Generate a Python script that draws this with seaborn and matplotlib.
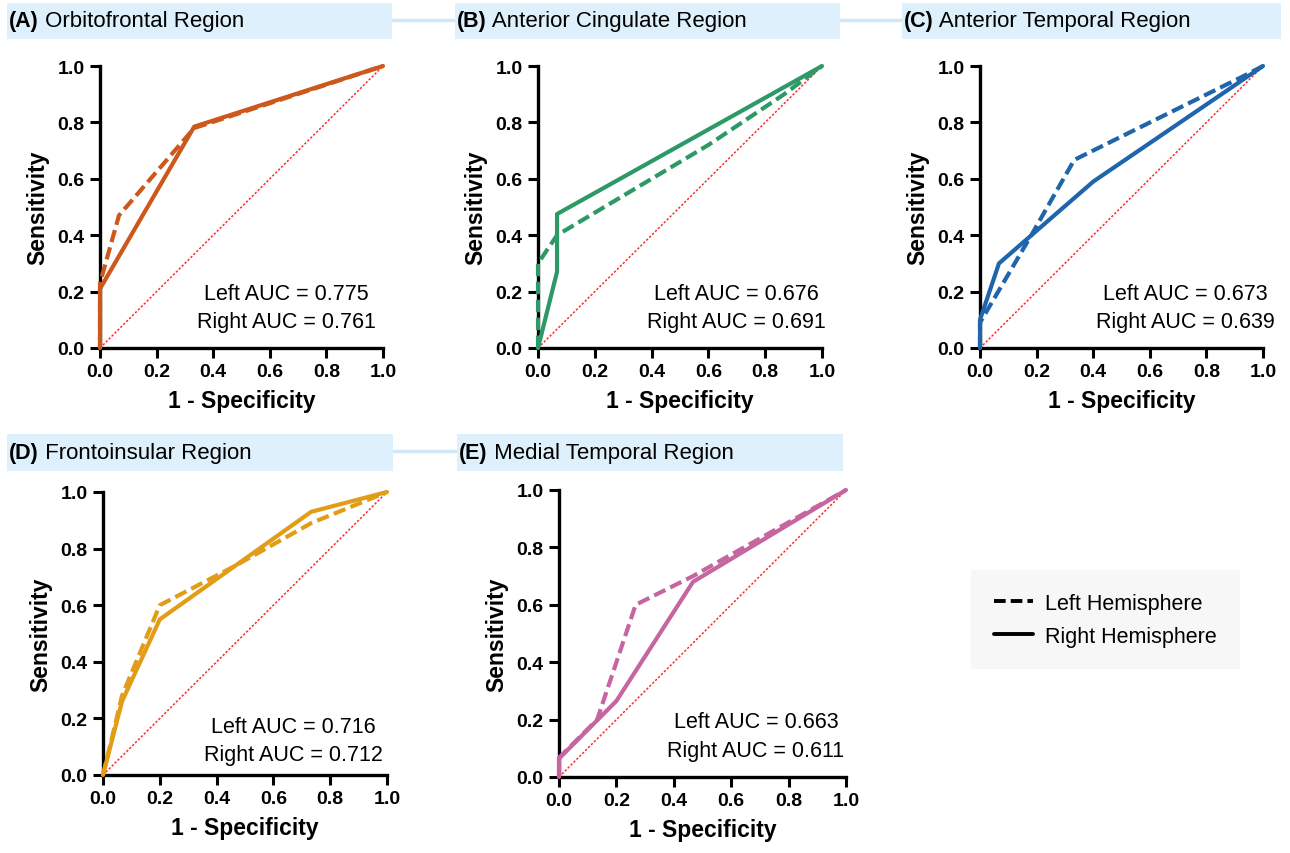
import numpy as np
import pandas as pd
import seaborn as sns
import matplotlib.pyplot as plt
from matplotlib.patches import Rectangle
from matplotlib.lines import Line2D

# 数据 (从图中读取的 ROC 曲线点)
regions = ['Orbitofrontal Region', 'Anterior Cingulate Region', 'Anterior Temporal Region',
           'Frontoinsular Region', 'Medial Temporal Region']
letters = ['(A)', '(B)', '(C)', '(D)', '(E)']
colors = ['#CC581C', '#2C9966', '#1F65AC', '#E29D18', '#C566A1']

left_fpr = [
    [0, 0, 0.067, 0.333, 1],
    [0, 0, 0.067, 0.6, 0.867, 1],
    [0, 0, 0.187, 0.333, 0.933, 1],
    [0, 0.067, 0.2, 0.467, 0.733, 1],
    [0, 0, 0.133, 0.267, 0.467, 1],
]
left_tpr = [
    [0, 0.23, 0.47, 0.78, 1],
    [0, 0.30, 0.40, 0.72, 0.90, 1],
    [0, 0.09, 0.41, 0.667, 0.965, 1],
    [0, 0.28, 0.60, 0.74, 0.89, 1],
    [0, 0.067, 0.20, 0.60, 0.70, 1],
]
right_fpr = [
    [0, 0, 0.333, 1],
    [0, 0.067, 0.067, 1],
    [0, 0, 0.067, 0.4, 1],
    [0, 0.067, 0.2, 0.733, 1],
    [0, 0, 0.2, 0.467, 1],
]
right_tpr = [
    [0, 0.21, 0.785, 1],
    [0, 0.27, 0.475, 1],
    [0, 0.10, 0.30, 0.59, 1],
    [0, 0.26, 0.55, 0.93, 1],
    [0, 0.064, 0.265, 0.68, 1],
]
left_auc = [0.775, 0.676, 0.673, 0.716, 0.663]
right_auc = [0.761, 0.691, 0.639, 0.712, 0.611]
chance = [0, 1]
ticks = [0.0, 0.2, 0.4, 0.6, 0.8, 1.0]

sns.set_theme(style='ticks')
plt.rcParams['font.family'] = ['Liberation Sans', 'DejaVu Sans']
plt.rcParams['text.color'] = 'black'
plt.rcParams['axes.labelcolor'] = 'black'
plt.rcParams['xtick.color'] = 'black'
plt.rcParams['ytick.color'] = 'black'

W, H = 1290, 854
fig = plt.figure(figsize=(W / 100, H / 100), dpi=100)


def px_box(x0, y0, x1, y1):
    # 像素坐标 -> figure 坐标
    return [x0 / W, 1 - y1 / H, (x1 - x0) / W, (y1 - y0) / H]


axes_px = [(100, 67, 383, 349), (538, 67, 822, 349), (980, 67, 1263, 349),
           (103, 493, 387, 776), (559, 491, 846, 778)]
text_x = [0.66, 0.70, 0.724, 0.67, 0.686]
text_y = [0.195, 0.195, 0.195, 0.173, 0.195]

axes = []
for i in range(5):
    ax = fig.add_axes(px_box(*axes_px[i]))
    axes.append(ax)
    df = pd.concat([
        pd.DataFrame({'fpr': left_fpr[i], 'tpr': left_tpr[i], 'side': 'Left'}),
        pd.DataFrame({'fpr': right_fpr[i], 'tpr': right_tpr[i], 'side': 'Right'}),
    ], ignore_index=True)
    ax.plot(chance, chance, color='#FF2A2A', lw=1.1, ls=(0, (1.5, 1.2)), zorder=1)
    sns.lineplot(data=df, x='fpr', y='tpr', style='side', dashes={'Left': (3, 1.3), 'Right': ''},
                 color=colors[i], lw=3.0, sort=False, estimator=None, legend=False, ax=ax,
                 zorder=3, clip_on=False)
    ax.set_xlim(0, 1)
    ax.set_ylim(0, 1)
    ax.set_xticks(ticks)
    ax.set_yticks(ticks)
    ax.set_xticklabels([f'{t:.1f}' for t in ticks], fontweight='bold', fontsize=14)
    ax.set_yticklabels([f'{t:.1f}' for t in ticks], fontweight='bold', fontsize=14)
    ax.set_xlabel('1 - Specificity', fontweight='bold', fontsize=16.5, labelpad=6)
    ax.set_ylabel('Sensitivity', fontweight='bold', fontsize=16.5, labelpad=6)
    ax.tick_params(length=7, width=2.2, color='black', pad=4)
    sns.despine(ax=ax)
    for s in ['left', 'bottom']:
        ax.spines[s].set_linewidth(2.4)
        ax.spines[s].set_color('black')
    ax.text(text_x[i], text_y[i], f'Left AUC = {left_auc[i]:.3f}', transform=ax.transAxes,
            ha='center', va='center', fontsize=15.5)
    ax.text(text_x[i], text_y[i] - 0.102, f'Right AUC = {right_auc[i]:.3f}', transform=ax.transAxes,
            ha='center', va='center', fontsize=15.5)

# 标题条
bar_color = '#DDF0FB'
line_color = '#CFE8F7'
bars_px = [(7, 4, 392, 40), (455, 4, 840, 40), (902, 4, 1281, 40),
           (7, 435, 393, 472), (457, 435, 843, 472)]
for x0, x1, y in [(392, 455, 21), (840, 902, 21), (393, 457, 452)]:
    fig.add_artist(Line2D([x0 / W, x1 / W], [1 - y / H, 1 - y / H], color=line_color, lw=2.5,
                          transform=fig.transFigure, zorder=-1))
for i, (x0, y0, x1, y1) in enumerate(bars_px):
    b = px_box(x0, y0, x1, y1)
    fig.add_artist(Rectangle((b[0], b[1]), b[2], b[3], transform=fig.transFigure,
                             facecolor=bar_color, edgecolor='none', zorder=-1))
    yc = 1 - (y0 + y1) / 2 / H
    t = fig.text((x0 + 2) / W, yc, letters[i], fontweight='bold', fontsize=15.5, va='center')
    axes[i].annotate(' ' + regions[i], xy=(1, 0.5), xycoords=t, va='center', ha='left',
                     fontsize=16, annotation_clip=False)

# 图例
handles = [Line2D([], [], color='black', lw=2.8, dashes=(3, 1.3)),
           Line2D([], [], color='black', lw=2.8)]
leg = fig.legend(handles, ['Left Hemisphere', 'Right Hemisphere'], loc='center',
                 bbox_to_anchor=(0.857, 0.273), fontsize=15.5, frameon=True, handlelength=1.8,
                 handletextpad=0.6, borderpad=0.75, labelspacing=0.55)
leg.get_frame().set_facecolor('#F6F6F6')
leg.get_frame().set_edgecolor('none')
leg.get_frame().set_boxstyle('square')

fig.savefig('out.png', dpi=100)
